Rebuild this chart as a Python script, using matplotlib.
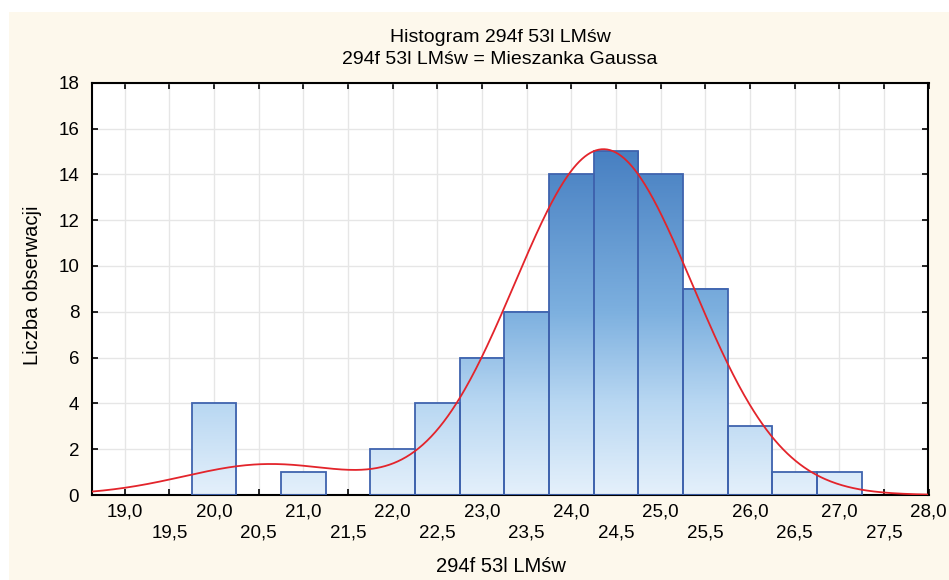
import numpy as np
import matplotlib
matplotlib.use("Agg")
import matplotlib.pyplot as plt
from matplotlib.patches import Rectangle
from matplotlib.colors import LinearSegmentedColormap

plt.rcParams['font.family'] = ['Liberation Sans', 'DejaVu Sans']

# ---- data ----
bin_centers = [20.0, 20.5, 21.0, 21.5, 22.0, 22.5, 23.0, 23.5, 24.0, 24.5,
               25.0, 25.5, 26.0, 26.5, 27.0]
counts = [4, 0, 1, 0, 2, 4, 6, 8, 14, 15, 14, 9, 3, 1, 1]
bin_width = 0.5
mix_means = [20.6, 24.36]
mix_sds = [0.94, 1.0]
mix_weights = [0.077, 0.923]
major_ticks = [19.0, 20.0, 21.0, 22.0, 23.0, 24.0, 25.0, 26.0, 27.0, 28.0]
minor_ticks = [19.5, 20.5, 21.5, 22.5, 23.5, 24.5, 25.5, 26.5, 27.5]
y_ticks = [0, 2, 4, 6, 8, 10, 12, 14, 16, 18]

title1 = "Histogram 294f 53l LMśw"
title2 = "294f 53l LMśw = Mieszanka Gaussa"
xlabel = "294f 53l LMśw"
ylabel = "Liczba obserwacji"

fig = plt.figure(figsize=(9.49, 5.80), dpi=100, facecolor='white')
# cream background panel
fig.patches.append(Rectangle((9/949, 0), 1 - 9/949, 1 - 12/580,
                             transform=fig.transFigure, facecolor='#FDF8EC',
                             edgecolor='none', zorder=-10))

ax = fig.add_axes([91.7/949, 1 - 495/580, (928.5 - 91.7)/949, (495 - 82.7)/580])
ax.set_facecolor('white')

cmap = LinearSegmentedColormap.from_list(
    'bars', [(0.0, '#E4F0FB'), (4/15, '#B8D7F2'), (8/15, '#7DB0DF'), (1.0, '#4880C2')])

n_total = sum(counts)
for c, h in zip(bin_centers, counts):
    if h <= 0:
        continue
    x0 = c - bin_width / 2
    grad = np.linspace(0, h, 100).reshape(-1, 1)
    ax.imshow(grad, extent=[x0, x0 + bin_width, 0, h], origin='lower',
              cmap=cmap, vmin=0, vmax=15, aspect='auto', zorder=2,
              interpolation='bilinear')
    ax.add_patch(Rectangle((x0, 0), bin_width, h, facecolor='none',
                           edgecolor='#3F63AE', linewidth=1.3, zorder=3))

xs = np.linspace(18.63, 28.0, 600)
ys = np.zeros_like(xs)
for m, s, w in zip(mix_means, mix_sds, mix_weights):
    ys += w * np.exp(-0.5 * ((xs - m) / s) ** 2) / (s * np.sqrt(2 * np.pi))
ys *= n_total * bin_width
ax.plot(xs, ys, color='#E3242B', linewidth=1.3, zorder=4)

ax.set_xlim(18.63, 28.0)
ax.set_ylim(0, 18)

ax.set_xticks(major_ticks)
ax.set_xticklabels([f"{t:.1f}".replace('.', ',') for t in major_ticks])
ax.set_xticks(minor_ticks, minor=True)
ax.set_xticklabels([f"{t:.1f}".replace('.', ',') for t in minor_ticks], minor=True)
ax.set_yticks(y_ticks)
ax.set_yticklabels([str(t) for t in y_ticks])

ax.tick_params(axis='both', which='both', direction='in', length=4, width=1.2,
               top=True, right=True, labelsize=13.5, color='black')
ax.tick_params(axis='x', which='major', pad=6)
ax.tick_params(axis='x', which='minor', pad=21)
ax.tick_params(axis='y', which='major', pad=9)

ax.grid(True, which='both', axis='x', color='#E6E6E6', linewidth=1.0, zorder=0)
ax.grid(True, which='major', axis='y', color='#E6E6E6', linewidth=1.0, zorder=0)
ax.set_axisbelow(True)
for sp in ax.spines.values():
    sp.set_linewidth(1.5)
    sp.set_color('black')

fig.text(500/949, 1 - 37/580, title1, ha='center', va='center', fontsize=14)
fig.text(500/949, 1 - 60/580, title2, ha='center', va='center', fontsize=14)
fig.text(501/949, 1 - 567/580, xlabel, ha='center', va='center', fontsize=14.5)
fig.text(33/949, 1 - 285/580, ylabel, ha='center', va='center', fontsize=14.5,
         rotation=90)

fig.savefig('out.png', dpi=100, facecolor=fig.get_facecolor())
